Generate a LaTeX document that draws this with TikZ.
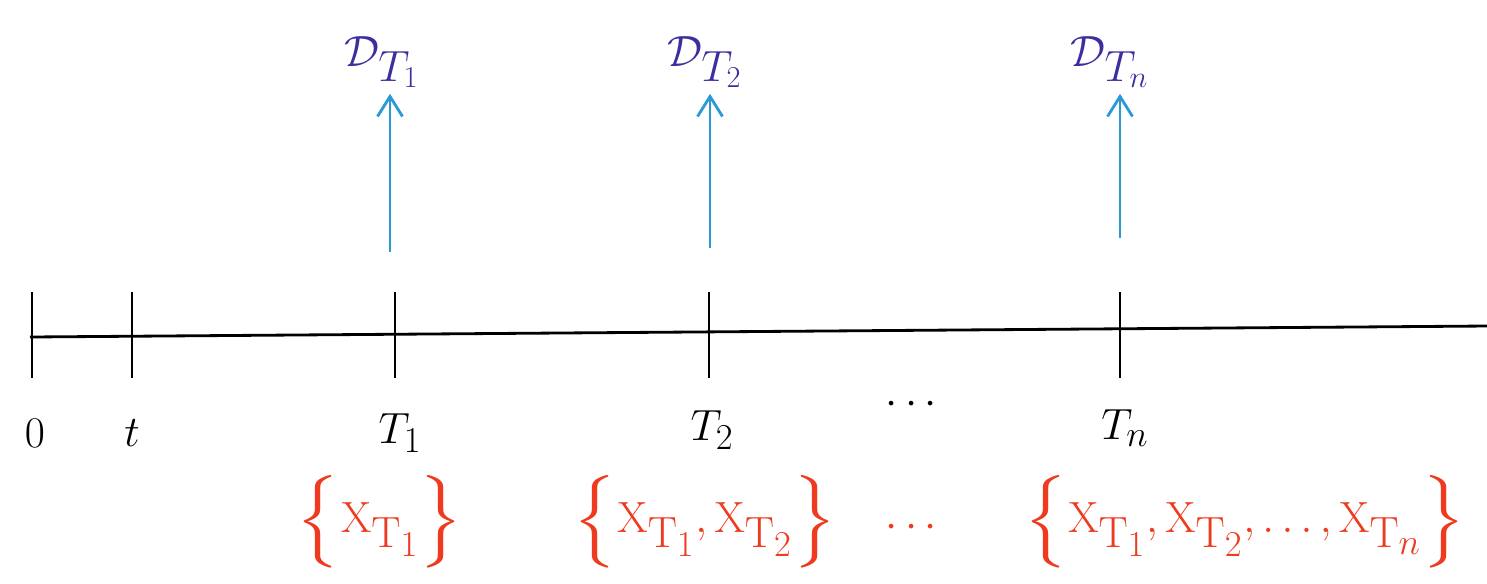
\documentclass[tikz,border=0pt]{standalone}
\usepackage{amsmath,amssymb}
\usepackage{xcolor}
\usetikzlibrary{arrows.meta}
\definecolor{setred}{HTML}{EE3B1F}
\definecolor{dblue}{HTML}{3B2E9E}
\definecolor{arrblue}{HTML}{2A9AD6}

\tikzset{
  timelbl/.style={font=\fontsize{32}{36}\selectfont},
  setlbl/.style={text=setred,font=\fontsize{44}{50}\selectfont},
  dlbl/.style={text=dblue,font=\fontsize{34}{40}\selectfont},
  tickmark/.style={line width=1.6pt},
  obsarrow/.style={->,arrblue,line width=1.6pt}
}

\begin{document}
\begin{tikzpicture}[x=0.02cm,y=-0.02cm,>={Straight Barb[length=4mm,width=5mm]}]
  \useasboundingbox (0,0) rectangle (1487,583);
  % time axis
  \coordinate (axl) at (30,337);
  \coordinate (axr) at (1487,326);
  \draw[line width=1.6pt] (axl) -- (axr);
  \foreach \x/\n in {32/z,132/t,395/a,709/b,1120/n}
    \draw[tickmark] (\x,292) -- (\x,378) coordinate (tk\n);
  % time labels
  \node[timelbl] (l0) at (35,433) {$0$};
  \node[timelbl] (lt) at (132,433) {$t$};
  \node[timelbl] (l1) at (400,433) {$T_1$};
  \node[timelbl] (l2) at (712,430) {$T_2$};
  \node[timelbl] (ldots) at (915,405) {$\cdots$};
  \node[timelbl] (ln) at (1125,428) {$T_n$};
  % information sets
  \node[setlbl] (s1) at (380,522) {$\big\{\mathrm{X}_{\mathrm{T}_1}\big\}$};
  \node[setlbl] (s2) at (705,522) {$\big\{\mathrm{X}_{\mathrm{T}_1},\mathrm{X}_{\mathrm{T}_2}\big\}$};
  \node[setlbl] (sdots) at (915,528) {$\cdots$};
  \node[setlbl] (sn) at (1245,522) {$\big\{\mathrm{X}_{\mathrm{T}_1},\mathrm{X}_{\mathrm{T}_2},\ldots,\mathrm{X}_{\mathrm{T}_n}\big\}$};
  % payoffs
  \node[dlbl] (d1) at (382,62) {$\mathcal{D}_{T_1}$};
  \node[dlbl] (d2) at (705,62) {$\mathcal{D}_{T_2}$};
  \node[dlbl] (dn) at (1110,62) {$\mathcal{D}_{T_n}$};
  \coordinate (a1) at (390,252);
  \coordinate (a2) at (710,248);
  \coordinate (an) at (1120,238);
  \draw[obsarrow] (a1) -- (a1 |- d1.south);
  \draw[obsarrow] (a2) -- (a2 |- d2.south);
  \draw[obsarrow] (an) -- (an |- dn.south);
\end{tikzpicture}
\end{document}
